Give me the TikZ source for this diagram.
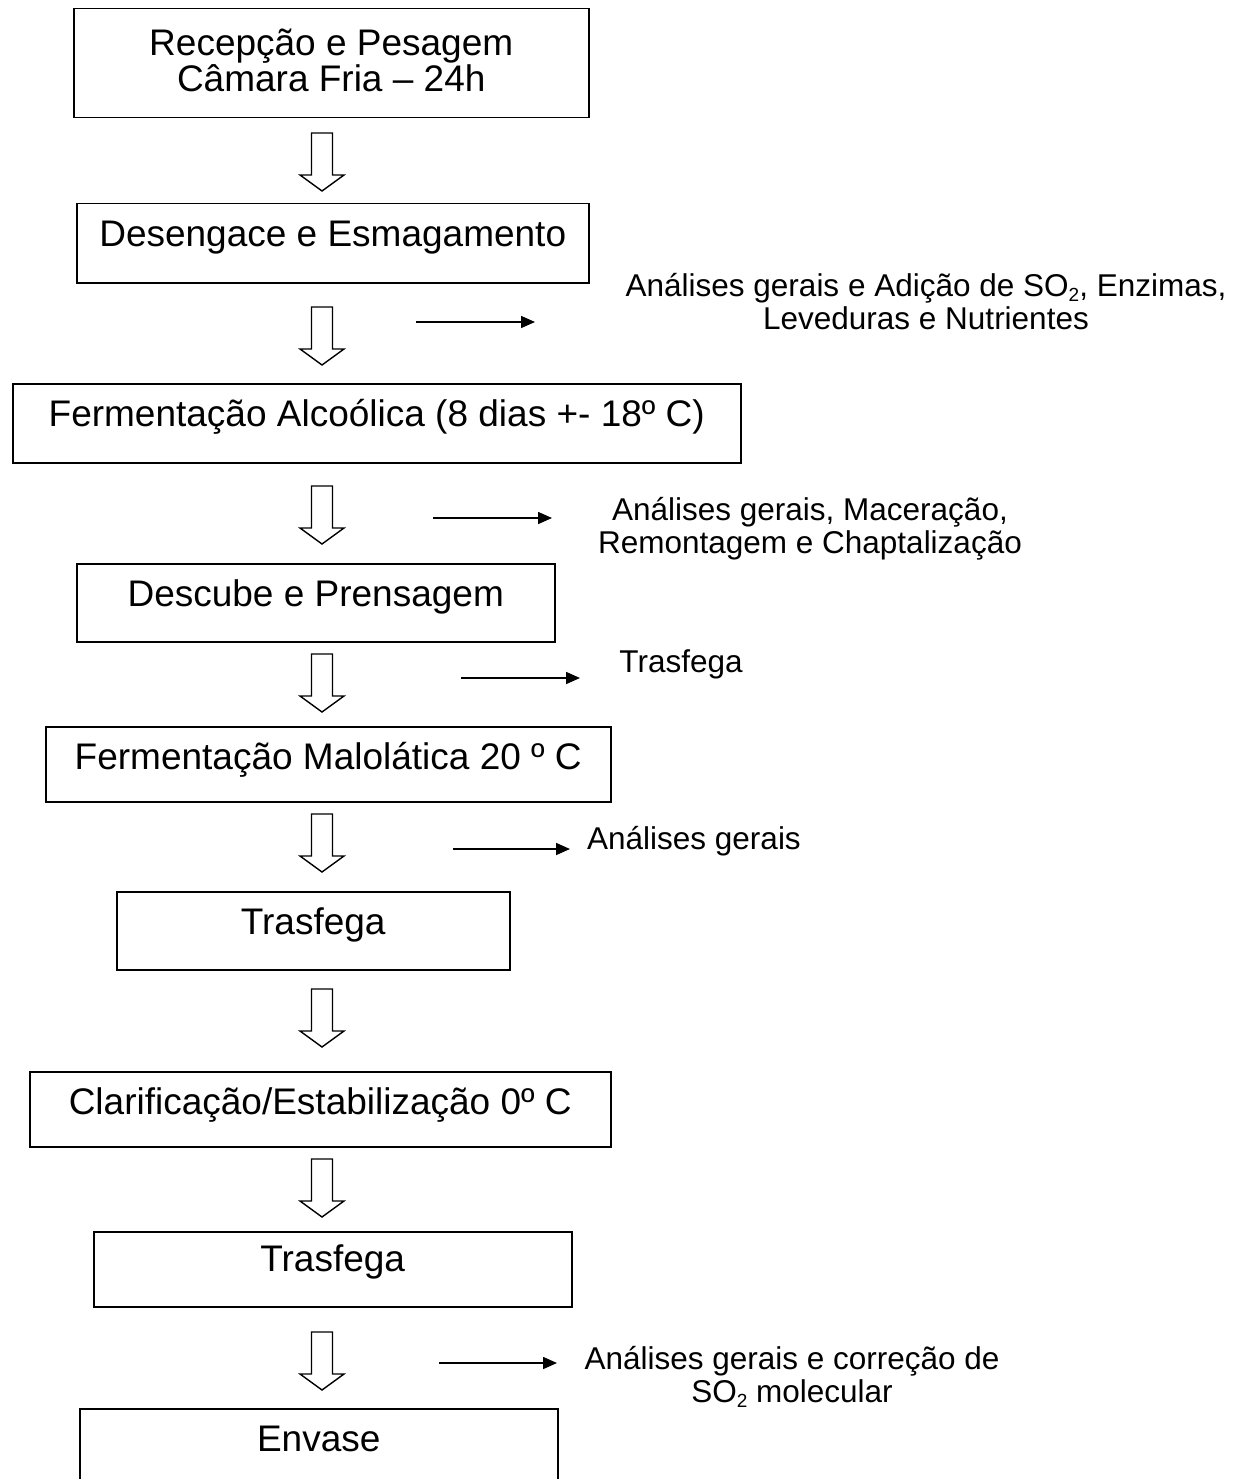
\documentclass[tikz,border=0pt]{standalone}
\usepackage{fontspec}
\setmainfont{Liberation Sans}
\usetikzlibrary{arrows.meta}

\newcommand{\boxfont}{\fontsize{37}{36}\selectfont}
\newcommand{\notefont}{\fontsize{31.5}{33}\selectfont}
\newcommand{\subtwo}{\raisebox{-0.15em}{\fontsize{19}{19}\selectfont 2}}

\tikzset{
    box/.style = {draw, line width=1.5pt, inner sep=0pt, align=center, font=\boxfont},
    low/.style = {text height=43pt, text depth=#1},
    note/.style = {align=center, inner sep=0pt, font=\notefont},
    side/.style = {line width=1.6pt, -{Triangle[length=14pt,width=12pt]}},
    hollow/.pic = {
        \draw[line width=1.4pt, line join=miter]
            (-10.5,0) -- (10.5,0) -- (10.5,42) -- (22,42) -- (0,58)
            -- (-22,42) -- (-10.5,42) -- cycle;
    }
}

\begin{document}
\begin{tikzpicture}[x=1pt, y=-1pt]
    % page frame
    \useasboundingbox (0,0) rectangle (1239,1479);
    \clip (0,0) rectangle (1239,1479);

    % process steps
    \node[box, text height=83pt, text depth=26pt, minimum width=515pt, anchor=north west]
        (rec) at (73,8) {Recepção e Pesagem\\Câmara Fria – 24h};
    \node[box, low=36pt, minimum width=512pt, anchor=north west]
        (des) at (76,203) {Desengace e Esmagamento};
    \node[box, low=36pt, minimum width=728pt, anchor=north west]
        (alc) at (12,383) {Fermentação Alcoólica (8 dias +- 18º C)};
    \node[box, low=35pt, minimum width=478pt, anchor=north west]
        (pre) at (76,563) {Descube e Prensagem};
    \node[box, low=32pt, minimum width=565pt, anchor=north west]
        (mal) at (45,726) {Fermentação Malolática 20 º C};
    \node[box, low=35pt, minimum width=393pt, anchor=north west]
        (tr1) at (116,891) {Trasfega};
    \node[box, low=32pt, minimum width=581pt, anchor=north west]
        (cla) at (29,1071) {Clarificação/Estabilização 0º C};
    \node[box, text height=40pt, text depth=35pt, minimum width=478pt, anchor=north west]
        (tr2) at (93,1231) {Trasfega};
    \node[box, low=60pt, minimum width=478pt, anchor=north west]
        (env) at (79,1408) {Envase};

    % hollow arrows between steps
    \foreach \y in {133,307,486,654,814,989,1159,1332}
        \pic at (322,\y) {hollow};

    % notes at the side
    \node[note] (n1) at (926,302) {Análises gerais e Adição de SO\subtwo, Enzimas,\\Leveduras e Nutrientes};
    \node[note] (n2) at (810,529) {Análises gerais, Maceração,\\Remontagem e Chaptalização};
    \node[note] (n3) at (681,664) {Trasfega};
    \node[note] (n4) at (694,841) {Análises gerais};
    \node[note] (n5) at (792,1377) {Análises gerais e correção de\\SO\subtwo{} molecular};

    % side arrows
    \foreach \n/\xa/\xb/\y in {1/416/535/322, 2/433/552/518, 3/461/580/678,
                               4/453/570/849, 5/439/557/1363} {
        \coordinate (s\n) at (\xa,\y);
        \coordinate (e\n) at (\xb,\y);
        \draw[side] (s\n) -- (e\n);
    }
\end{tikzpicture}
\end{document}
